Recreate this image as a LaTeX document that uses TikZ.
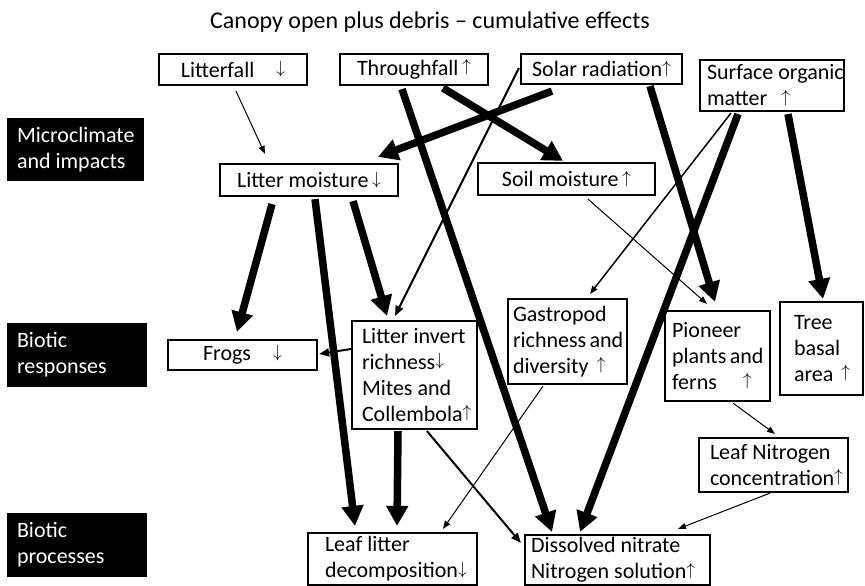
\documentclass[tikz,border=0pt]{standalone}
\usepackage{fontspec}
\setmainfont{Carlito}
\usetikzlibrary{arrows.meta,calc}
\newcommand{\arup}{\raisebox{.16em}{\scalebox{.85}{$\uparrow$}}}
\newcommand{\ardown}{\raisebox{.16em}{\scalebox{.85}{$\downarrow$}}}

\begin{document}
\begin{tikzpicture}
[x=1pt,y=-1pt,font=\fontsize{22}{26}\selectfont,%
  boxdecorate/.style={draw,line width=2.2pt,inner sep=0pt,align=flush left,%
    execute at begin node={\hyphenpenalty=10000\exhyphenpenalty=10000}},%
  labeldecorate/.style={fill=black,text=white,inner sep=0pt,align=flush left,%
    minimum width=140pt,minimum height=64pt,text width=120pt},%
  bigarrow/.style={line width=7.5pt,-{Triangle[length=20pt,width=21pt]}},%
  midarrow/.style={line width=2pt,-{Triangle[length=10pt,width=8pt]}},%
  thinarrow/.style={line width=1pt,-{Triangle[length=8pt,width=6pt]}}]
\useasboundingbox (0,0) rectangle (865,586);
%% title
\node (title) at (430,22) [font=\fontsize{24}{28}\selectfont] {Canopy open plus debris -- cumulative effects};
%% row labels
\node (micro) at (75.5,149.5) [labeldecorate,minimum width=137pt,minimum height=63pt,text width=117pt] {Microclimate\\and~impacts};
\node (responses) at (77,355) [labeldecorate] {Biotic\\responses};
\node (processes) at (77,545) [labeldecorate] {Biotic\\processes};
%% nodes or boxes
\node (litterfall) at (233,69.5) [boxdecorate,minimum width=148pt,minimum height=31pt] {Litterfall\quad\ardown};
\node (throughfall) at (414,69.5) [boxdecorate,minimum width=148pt,minimum height=31pt] {Throughfall\,\arup};
\node (solar) at (601.5,69) [boxdecorate,minimum width=161pt,minimum height=30pt] {Solar radiation\arup};
\node (surface) at (772,85.5) [boxdecorate,minimum width=144pt,minimum height=51pt,text width=130pt] {\mbox{Surface organic}\\matter\kern14pt\arup};
\node (littermoist) at (309,180) [boxdecorate,minimum width=178pt,minimum height=32pt] {Litter moisture\,\ardown};
\node (soilmoist) at (566.5,179) [boxdecorate,minimum width=177pt,minimum height=32pt] {Soil moisture\,\arup};
\node (frogs) at (242.5,355) [boxdecorate,minimum width=149pt,minimum height=30pt] {Frogs\quad\ardown};
\node (invert) at (414.5,375) [boxdecorate,minimum width=125pt,minimum height=108pt,text width=105pt] {Litter~invert\\richness\ardown\\Mites~and\\Collembola\arup};
\node (gastropod) at (567.5,341.5) [boxdecorate,minimum width=119pt,minimum height=85pt,text width=109pt] {Gastropod\\richness~and\\diversity\kern8pt\arup};
\node (pioneer) at (717.5,356) [boxdecorate,minimum width=105pt,minimum height=90pt,text width=91pt] {Pioneer\\plants~and\\ferns\kern26pt\arup};
\node (tree) at (821.5,348.5) [boxdecorate,minimum width=83pt,minimum height=93pt,text width=55pt] {Tree\\basal\\area\kern8pt\arup};
\node (leafN) at (773.5,465) [boxdecorate,minimum width=149pt,minimum height=54pt,text width=127pt] {Leaf~Nitrogen\\concentration\arup};
\node (leaflitter) at (392.5,559) [boxdecorate,minimum width=169pt,minimum height=52pt,text width=135pt] {Leaf~litter\\decomposition\ardown};
\node (dissolved) at (617.5,560) [boxdecorate,minimum width=185pt,minimum height=50pt,text width=173pt] {Dissolved~nitrate\\Nitrogen~solution\arup};
%% edges or arrows
\draw[thinarrow] ($(litterfall.south)+(3,5)$) -- ($(littermoist.north)+(-44,-9)$);
\draw[bigarrow] ($(throughfall.south)+(-12,3)$) -- ($(dissolved.north)+(-65.5,-2)$);
\draw[bigarrow] ($(throughfall.south)+(29,2)$) -- ($(soilmoist.north)+(-3.5,-1)$);
\draw[bigarrow] ($(solar.south)+(-49.5,6)$) -- ($(littermoist.north)+(69,-6)$);
\draw[midarrow] ($(solar.west)+(-1,-1)$) -- ($(invert.north)+(-19.5,-4)$);
\draw[bigarrow] ($(solar.south)+(48.5,1)$) -- ($(pioneer.north)+(-2.5,-8)$);
\draw[thinarrow,line width=1.5pt] ($(surface.south)+(-41,1)$) -- ($(gastropod.north)+(22.5,-4)$);
\draw[bigarrow] ($(surface.south)+(-34,2)$) -- ($(dissolved.north)+(-37.5,-2)$);
\draw[bigarrow] ($(surface.south)+(16,2)$) -- ($(tree.north)+(1.5,-2)$);
\draw[thinarrow] ($(soilmoist.south)+(21.5,3)$) -- ($(pioneer.north)+(-10.5,-6)$);
\draw[bigarrow] ($(littermoist.south)+(-37,7)$) -- ($(frogs.north)+(-5.5,-7)$);
\draw[bigarrow] ($(littermoist.south)+(6,2)$) -- ($(leaflitter.north)+(-37.5,-6)$);
\draw[bigarrow] ($(littermoist.south)+(44,4)$) -- ($(invert.north)+(-27.5,-4)$);
\draw[midarrow] ($(invert.west)+(0,-26)$) -- ($(frogs.east)+(1,-1)$);
\draw[bigarrow] ($(invert.south)+(-16.5,1)$) -- ($(leaflitter.north)+(4.5,-6)$);
\draw[midarrow] ($(invert.south)+(12.5,1)$) -- ($(dissolved.west)+(-3,-17)$);
\draw[thinarrow] ($(gastropod.south)+(-24.5,1)$) -- ($(leaflitter.north)+(50.5,-3)$);
\draw[thinarrow] ($(pioneer.south)+(15.5,1)$) -- ($(leafN.north)+(1.5,-3)$);
\draw[thinarrow] ($(leafN.south)+(-3.5,0)$) -- ($(dissolved.north)+(60.5,-5)$);
\end{tikzpicture}
\end{document}
